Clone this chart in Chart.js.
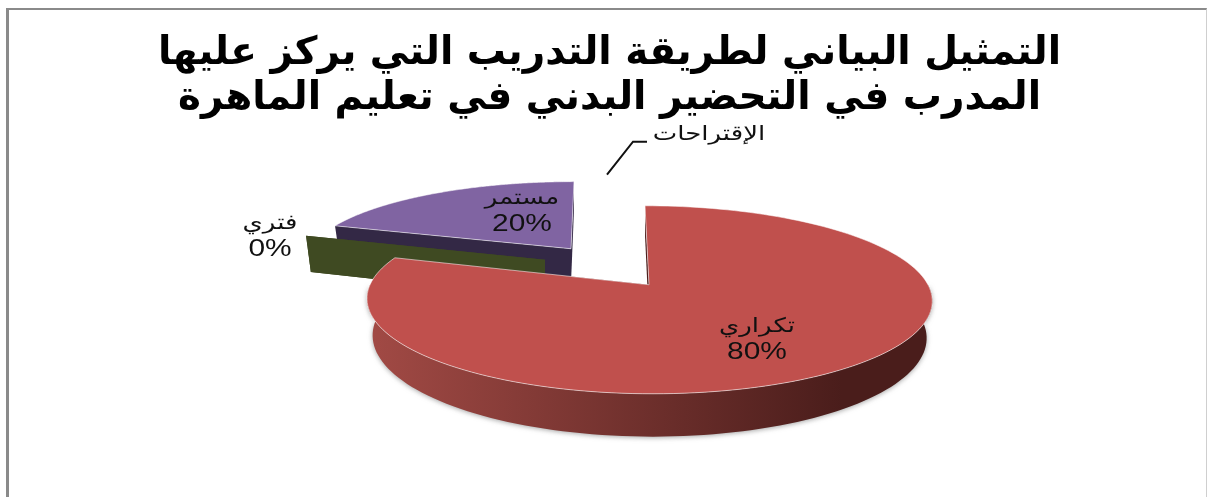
<!DOCTYPE html>
<html lang="ar">
<head>
<meta charset="utf-8">
<style>
  html, body { margin: 0; padding: 0; background: #fff; }
  #frame { position: absolute; left: 6px; top: 8px; width: 1201px; height: 489px; box-sizing: border-box;
           border-left: 3px solid #8a8a8a; border-top: 2px solid #8a8a8a; border-right: 1px solid #cfcfcf; }
  canvas { position: absolute; left: 0; top: 0; }
</style>
</head>
<body>
<div id="frame"></div>
<canvas id="c" width="1207" height="497"></canvas>
<script src="https://cdn.jsdelivr.net/npm/chart.js@4/dist/chart.umd.min.js"></script>
<script>
// Training-method shares (percent)
const categories = ['تكراري', 'فتري', 'مستمر', 'الإقتراحات'];
const shares = [80, 0, 20, 0];
const titleLines = ['التمثيل البياني لطريقة التدريب التي يركز عليها', 'المدرب في التحضير البدني في تعليم الماهرة'];

// Slice colours: top face, rim at left, rim at right, cut wall
const topColors = ['#c0504d', '#4f6228', '#8064a2', '#ffffff'];
const rimLeft = ['#a24a45', '#3f4a22', '#3a2d50', '#f6f6f6'];
const rimRight = ['#4a1d1b', '#3f4a22', '#332845', '#f6f6f6'];
const wallColors = ['#4a1d1b', '#3f4a22', '#332845', '#f4f4f4'];

// Pull-out of each slice from the pie centre, in pixels, and its shrink with distance
const pullX = [0, -104, -78, -41];
const pullY = [0, -25, -36, -36];
const shrinkX = [1, 0.945, 0.937, 0.9];
const shrinkY = [1, 0.89, 0.85, 0.91];
const thickness = [36, 38, 34, 34];
// Sideways lean of each slice towards the vanishing point
const lean = [4, 0, -3, 0];

// Label placement relative to the pie centre
const labelX = [108, -379, -127, 60];
const labelY = [42, -61, -86, -150];
const PERSP = 0.16, STRETCH_X = 279, STRETCH_Y = 91.6, TAPER = 0.02;
// Pie centre relative to the centre of the chart area
const CENTER_DX = 39.5, CENTER_DY = -28;

function project(el, i, ang, r) {
  const u = Math.cos(ang) * r, v = Math.sin(ang) * r;
  const w = 1 - PERSP * v;
  return {
    x: el.x + CENTER_DX + pullX[i] + shrinkX[i] * STRETCH_X * u / w + lean[i] * v,
    y: el.y + CENTER_DY + pullY[i] + shrinkY[i] * STRETCH_Y * v / w,
    d: thickness[i] / w,
    v
  };
}
function rimPoints(el, i) {
  const pts = [], n = 160;
  for (let k = 0; k <= n; k++) {
    pts.push(project(el, i, el.startAngle + (el.endAngle - el.startAngle) * k / n, 1));
  }
  return pts;
}
function poly(ctx, pts) {
  ctx.beginPath();
  pts.forEach((p, k) => k ? ctx.lineTo(p.x, p.y) : ctx.moveTo(p.x, p.y));
  ctx.closePath();
}
function drawSlice(ctx, el, i) {
  const apex = project(el, i, 0, 0);
  const rim = rimPoints(el, i);
  const down = p => ({ x: p.x + (apex.x - p.x) * TAPER, y: p.y + p.d });

  // walls along both cut edges
  ctx.fillStyle = wallColors[i];
  [rim[0], rim[rim.length - 1]].forEach(edge => {
    poly(ctx, [apex, edge, down(edge), down(apex)]);
    ctx.fill();
  });

  if (el.endAngle - el.startAngle > 0.001) {
    // outer rim, only its near half shows, with a left-to-right shade and a soft ground shadow
    const near = rim.filter(p => p.v > -0.02);
    if (near.length > 1) {
      const xs = rim.map(p => p.x);
      const g = ctx.createLinearGradient(Math.min(...xs), 0, Math.max(...xs) - 90, 0);
      g.addColorStop(0, rimLeft[i]);
      g.addColorStop(1, rimRight[i]);
      ctx.save();
      ctx.shadowColor = 'rgba(90,90,90,0.55)';
      ctx.shadowBlur = 5;
      ctx.shadowOffsetY = 1;
      ctx.fillStyle = g;
      poly(ctx, near.concat(near.map(down).reverse()));
      ctx.fill();
      ctx.restore();
    }

    // top face with a thin bevel line
    poly(ctx, [apex].concat(rim));
    ctx.fillStyle = topColors[i];
    ctx.fill();
    ctx.strokeStyle = 'rgba(255,255,255,0.55)';
    ctx.lineWidth = 1;
    ctx.stroke();
  }
}

// Draws the arcs the pie controller has laid out as a tilted, thick pie
const tiltedPie = {
  id: 'tiltedPie',
  beforeDatasetDraw(chart, args) {
    const ctx = chart.ctx;
    const arcs = args.meta.data;
    ctx.save();
    [3, 2, 1, 0].forEach(i => drawSlice(ctx, arcs[i], i));
    ctx.restore();
    return false;
  },
  afterDatasetsDraw(chart) {
    const ctx = chart.ctx;
    const arc = chart.getDatasetMeta(0).data[0];
    const cx = arc.x + CENTER_DX, cy = arc.y + CENTER_DY;
    ctx.save();
    ctx.fillStyle = '#111';
    ctx.textAlign = 'center';
    ctx.textBaseline = 'middle';
    categories.forEach((name, i) => {
      ctx.save();
      ctx.translate(cx + labelX[i], cy + labelY[i]);
      ctx.scale(1.3, 1);
      ctx.font = '20px "Liberation Sans", "DejaVu Sans"';
      ctx.fillText(name, 0, 0);
      if (i !== 3) {
        ctx.font = '23px "Liberation Sans", "DejaVu Sans"';
        ctx.fillText(shares[i] + '%', 0, 26);
      }
      ctx.restore();
    });
    // leader line for the label without a visible slice
    ctx.strokeStyle = '#111';
    ctx.lineWidth = 2;
    ctx.beginPath();
    ctx.moveTo(cx - 42, cy - 110);
    ctx.lineTo(cx - 16, cy - 143);
    ctx.lineTo(cx - 2, cy - 143);
    ctx.stroke();
    ctx.restore();
  }
};

new Chart(document.getElementById('c'), {
  type: 'pie',
  data: { labels: categories, datasets: [{ data: shares, backgroundColor: topColors, borderWidth: 0 }] },
  plugins: [tiltedPie],
  options: {
    responsive: false,
    animation: false,
    layout: { padding: { left: 12, right: 0, top: 0, bottom: 0 } },
    plugins: {
      legend: { display: false },
      tooltip: { enabled: false },
      title: {
        display: true,
        text: titleLines,
        color: '#000',
        font: { family: '"DejaVu Sans"', size: 39, weight: 'bold', lineHeight: 1.16 },
        padding: { top: 31, bottom: 7 }
      }
    }
  }
});
</script>
</body>
</html>
